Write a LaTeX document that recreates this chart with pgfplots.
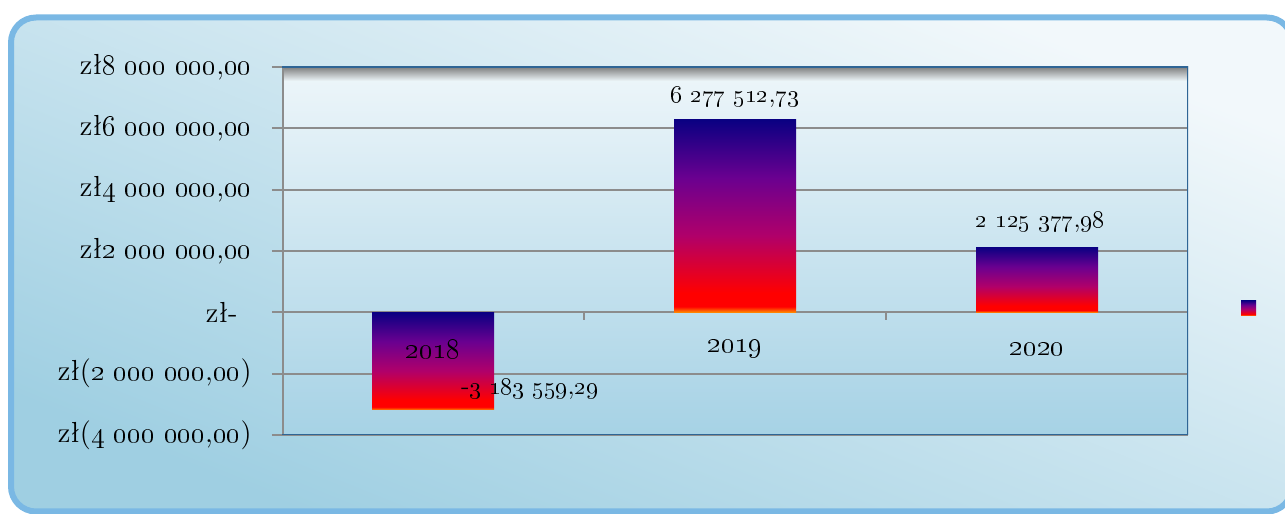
\documentclass[border=0pt]{standalone}
\usepackage{pgfplots}
\pgfplotsset{compat=1.18}
\newcommand\os[1]{\oldstylenums{#1}}
\newcommand\lf{\fontsize{13}{15}\selectfont}
\newcommand\yf{\fontsize{13.5}{15}\selectfont}
\newcommand\tf{\fontsize{14.5}{16}\selectfont}
\definecolor{frame}{HTML}{7AB8E4}
\definecolor{bgA}{HTML}{F2F8FB}
\definecolor{bgB}{HTML}{9FCFE2}
\definecolor{paTop}{HTML}{EEF6FA}
\definecolor{paBot}{HTML}{A6D2E5}
\definecolor{gridg}{HTML}{8C8C8C}
\definecolor{axblue}{HTML}{2F6595}
\definecolor{bnavy}{HTML}{0A0082}
\definecolor{bpurple}{HTML}{6A0090}
\definecolor{bmag}{HTML}{B0006A}
\definecolor{bred}{HTML}{FF0000}
\definecolor{borange}{HTML}{FF8C00}
\pgfdeclareverticalshading{barsh}{100bp}{color(0bp)=(borange); color(25bp)=(borange); color(26.5bp)=(bred); color(30bp)=(bred); color(45bp)=(bmag); color(60bp)=(bpurple); color(75bp)=(bnavy); color(100bp)=(bnavy)}
\begin{document}
\begin{tikzpicture}
\useasboundingbox (0,0) rectangle (642.5pt,257pt);
\begin{scope}
\clip (0,0) rectangle (642.5pt,257pt);
\shade[rounded corners=12.5pt, top color=bgA, bottom color=bgB, shading angle=-22] (5.5pt,1.25pt) rectangle (646pt,248.25pt);
\draw[frame, line width=3pt, rounded corners=12.5pt] (5.5pt,1.25pt) rectangle (646pt,248.25pt);
\end{scope}
\begin{axis}[
  at={(141pt,39.5pt)}, anchor=south west,
  scale only axis, width=453pt, height=184pt,
  xmin=0.5, xmax=3.5, ymin=-4e6, ymax=8e6,
  axis background/.style={top color=paTop, bottom color=paBot},
  axis line style={draw=none},
  xtick=\empty,
  ytick={-4e6,-2e6,0,2e6,4e6,6e6,8e6},
  yticklabels={{zł(\os{4 000 000},\os{00})},{zł(\os{2 000 000},\os{00})},{zł-\rule{7pt}{0pt}},{zł\os{2 000 000},\os{00}},{zł\os{4 000 000},\os{00}},{zł\os{6 000 000},\os{00}},{zł\os{8 000 000},\os{00}}},
  scaled y ticks=false,
  ytick pos=left, tick align=outside,
  major tick length=5pt,
  major tick style={gridg, line width=1pt},
  ymajorgrids, grid style={gridg, line width=1pt},
  yticklabel style={font=\tf, inner sep=0pt, xshift=-10pt},
  legend style={at={(1.068,0.345)}, anchor=center, draw=none, fill=none, inner sep=0pt, nodes={inner sep=0pt}},
  legend image code/.code={\shade[shading=barsh] (0pt,-3.75pt) rectangle (7.5pt,3.75pt);},
]
\shade[top color=gray, bottom color=paTop] (rel axis cs:0,1) rectangle ([yshift=-7pt]rel axis cs:1,1);
\addplot[ybar, bar width=61pt, draw=none, shading=barsh] coordinates {(1,-3183559.29)};
\addlegendentry{}
\addplot[ybar, bar width=61pt, draw=none, shading=barsh, forget plot] coordinates {(2,6277512.73)};
\addplot[ybar, bar width=61pt, draw=none, shading=barsh, forget plot] coordinates {(3,2125377.98)};
\draw[gridg, line width=1.5pt] (rel axis cs:0,0) -- (rel axis cs:0,1);
\draw[axblue, line width=1.3pt] (rel axis cs:0,1) -- (rel axis cs:1,1) -- (rel axis cs:1,0) -- (rel axis cs:0,0);
\draw[gridg, line width=1pt] (axis cs:1.5,0) -- ([yshift=-4pt]axis cs:1.5,0);
\draw[gridg, line width=1pt] (axis cs:2.5,0) -- ([yshift=-4pt]axis cs:2.5,0);
\node[font=\yf] at (axis cs:1,0) [yshift=-18.5pt] {\os{2018}};
\node[font=\yf] at (axis cs:2,0) [yshift=-18.5pt] {\os{2019}};
\node[font=\yf] at (axis cs:3,0) [yshift=-18.5pt] {\os{2020}};
\node[font=\lf] at (axis cs:2,7.0e6) {\os{6 277 512},\os{73}};
\node[font=\lf] at (axis cs:3.01,2.94e6) {\os{2 125 377},\os{98}};
\node[font=\lf] at (axis cs:1.32,-2.52e6) {-\os{3 183 559},\os{29}};
\end{axis}
\end{tikzpicture}
\end{document}
